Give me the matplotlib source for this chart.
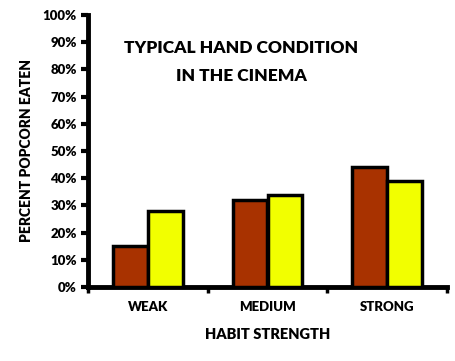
import matplotlib
matplotlib.use("Agg")
import matplotlib.pyplot as plt
import numpy as np

categories = ["WEAK", "MEDIUM", "STRONG"]
series_a = [15, 32, 44]
series_b = [28, 34, 39]
yticks = [0, 10, 20, 30, 40, 50, 60, 70, 80, 90, 100]

plt.rcParams['font.family'] = ['Lato', 'DejaVu Sans']
FW = 'heavy'
fig = plt.figure(figsize=(4.55, 3.61), dpi=100)
ax = fig.add_axes([88/455, 1-287/361, (447-88)/455, (287-15)/361])

x = np.arange(len(categories))
w = 0.29
ax.bar(x - w/2, series_a, w, color="#A83200", edgecolor="black", linewidth=2.5, zorder=3)
ax.bar(x + w/2, series_b, w, color="#F2FF00", edgecolor="black", linewidth=2.5, zorder=3)

ax.set_xlim(-0.5, 2.5)
ax.set_ylim(0, 100)
ax.set_yticks(yticks)
ax.set_yticklabels([f"{v}%" for v in yticks], fontsize=9.5, fontweight=FW)
ax.set_xticks(x)
ax.set_xticklabels(categories, fontsize=9.5, fontweight=FW)
ax.tick_params(axis='x', length=0, pad=10)
ax.set_xticks([-0.5, 0.5, 1.5, 2.5], minor=True)
ax.tick_params(axis='x', which='minor', length=4, width=2.5, direction='out')
ax.tick_params(axis='y', length=5, width=3, direction='out', pad=3)

for s in ['top', 'right']:
    ax.spines[s].set_visible(False)
for s in ['left', 'bottom']:
    ax.spines[s].set_linewidth(3.5)

ax.set_ylabel("PERCENT POPCORN EATEN", fontsize=10, fontweight=FW, labelpad=7)
ax.set_xlabel("HABIT STRENGTH", fontsize=10.5, fontweight=FW, labelpad=11)
fig.text(241/455, 1-62/361, "TYPICAL HAND CONDITION\nIN THE CINEMA", ha='center', va='center',
         fontsize=12.5, fontweight=FW, linespacing=1.85)

fig.savefig("out.png", dpi=100)
